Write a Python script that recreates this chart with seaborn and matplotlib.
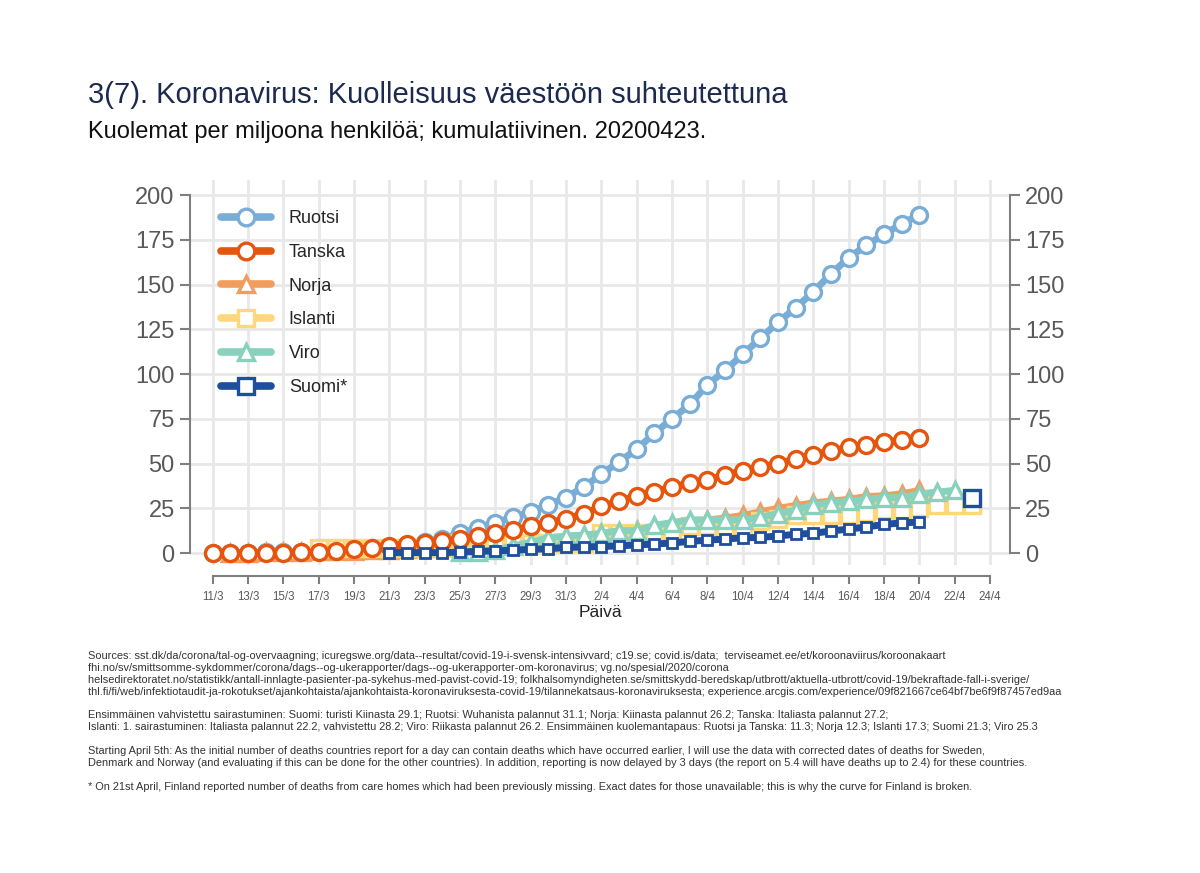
import pandas as pd
import matplotlib.pyplot as plt
import matplotlib.dates as mdates
import seaborn as sns
from matplotlib.lines import Line2D

# kuolemat per miljoona, kumulatiivinen, 11/3 - 23/4
dates = pd.date_range('2020-03-11', '2020-04-23')
N = None

ruotsi = [0.1, 0.1, 0.2, 0.3, 0.5, 0.8, 1.1, 1.5, 2.0, 2.7, 3.5,
          4.5, 6.0, 8, 11, 14, 17, 20, 23, 27, 31,
          37, 44, 51, 58, 67, 75, 83, 94, 102, 111,
          120, 129, 137, 146, 156, 165, 172, 178, 184, 189,
          N, N, N]
tanska = [0, 0, 0, 0, 0.2, 0.4, 0.6, 1.2, 2.1, 3.0, 4.0,
          5.0, 5.6, 6.5, 8.0, 9.5, 11, 13, 15, 17, 19,
          22, 26, 29, 32, 34, 37, 39, 41, 43.5, 46,
          48, 50, 52.5, 55, 57, 59, 60.5, 62, 63, 64,
          N, N, N]
norja = [N, 0.2, 0.2, 0.4, 0.6, 0.6, 0.9, 1.1, 1.3, 1.5, 1.9,
         2.4, 2.8, 3.5, 4.3, 5.0, 5.8, 6.5, 7.3, 8.0, 9.0,
         10, 11, 12, 13, 14.5, 16, 17, 18.5, 19.5, 21,
         23, 25, 26.5, 28, 29, 30, 31.5, 32, 33, 35,
         N, N, N]
islanti = [N, N, N, N, N, N,
           2.7, 2.7, 2.7, 2.7, 2.7, 2.7, 2.7, 2.7,
           5.5, 5.5, 5.5, 5.5, 5.5, 5.5, 5.5, 5.5,
           11, 11, 11, 11, 11,
           15, 15, 15, 15,
           18, 19.2,
           21, 21, 21, 21, 22.3,
           24, 24, 25,
           27, 27, 27]
viro = [N] * 14 + [0.8, 0.8, 1.5, 4, 6, 8.5, 9.5,
                   10, 11, 12.5, 12.5, 15.5, 17, 18.5, 18.5, 18.5, 18.5,
                   20, 22, 24, 27, 28, 29, 30, 31, 31, 33,
                   34, 35, N]
suomi = [N] * 10 + [0.2, 0.2, 0.2, 0.2, 0.5, 0.9, 1.2, 1.6, 2.0, 2.4, 3.1,
                    3.4, 3.6, 4.0, 4.5, 5.0, 5.6, 6.5, 7.2, 7.8, 8.5,
                    8.7, 9.5, 10.5, 11, 12.3, 13.4, 14.5, 16, 16.8, 17.3,
                    N, N, N]
# hoivakotien kuolemat mukana (21/4 jalkeen)
suomi_uusi_pvm = ['2020-04-23']
suomi_uusi = [31]

maat = ['Ruotsi', 'Tanska', 'Norja', 'Islanti', 'Viro', 'Suomi*']
arvot = [ruotsi, tanska, norja, islanti, viro, suomi]
varit = ['#7aadd6', '#e6550d', '#f29d5f', '#fed77a', '#88d1bc', '#1f4e9c']
merkit = ['o', 'o', '^', 's', '^', 's']
koot = [11.5, 11.5, 12, 11, 12, 6.5]
kerros = [3, 7, 4, 5, 6, 8]

sns.set_theme(style='white')
plt.rcParams['font.family'] = ['Liberation Sans', 'DejaVu Sans']

fig = plt.figure(figsize=(12, 8.73), dpi=100)
ax = fig.add_axes([190 / 1200, 1 - 565 / 873, 820 / 1200, 385 / 873])

for maa, vals, col, mk, ms, z in zip(maat, arvot, varit, merkit, koot, kerros):
    df = pd.DataFrame({'pvm': dates, 'arvo': vals}).dropna()
    sns.lineplot(data=df, x='pvm', y='arvo', ax=ax, color=col, linewidth=5,
                 marker=mk, markersize=ms, markerfacecolor='white',
                 markeredgecolor=col, markeredgewidth=2.4 if ms > 7 else 2,
                 zorder=z, legend=False)

df_fi = pd.DataFrame({'pvm': pd.to_datetime(suomi_uusi_pvm), 'arvo': suomi_uusi})
sns.lineplot(data=df_fi, x='pvm', y='arvo', ax=ax, color=varit[5], linewidth=0,
             marker='s', markersize=11.5, markerfacecolor='white',
             markeredgecolor=varit[5], markeredgewidth=2.4, zorder=10, legend=False)

ticks = pd.date_range('2020-03-11', '2020-04-24', freq='2D')
ax.set_xticks(ticks)
ax.set_xticklabels([f'{d.day}/{d.month}' for d in ticks])
ax.set_xlim(ticks[0] - pd.Timedelta(hours=31), ticks[-1] + pd.Timedelta(hours=27))
ax.set_ylim(-6.7, 208.4)
ax.set_yticks(range(0, 201, 25))
ax.grid(True, color='#e8e8e8', linewidth=2)
ax.set_axisbelow(True)

for s in ['top', 'right']:
    ax.spines[s].set_visible(False)
ax.spines['left'].set_bounds(0, 200)
ax.spines['left'].set_color('#7f7f7f')
ax.spines['left'].set_linewidth(1.5)
ax.spines['bottom'].set_position(('outward', 8))
ax.spines['bottom'].set_bounds(mdates.date2num(ticks[0]), mdates.date2num(ticks[-1]))
ax.spines['bottom'].set_color('#7f7f7f')
ax.spines['bottom'].set_linewidth(1.5)
ax.tick_params(axis='y', left=True, length=7, width=1.5, color='#7f7f7f',
               labelsize=17, labelcolor='#595959', pad=4)
ax.tick_params(axis='x', bottom=True, length=6, width=1.5, color='#7f7f7f',
               labelsize=8.3, labelcolor='#595959', pad=5)
ax.set_xlabel('Päivä', fontsize=12.5, color='#222222', labelpad=1)
ax.set_ylabel('')

ax2 = ax.twinx()
ax2.set_ylim(ax.get_ylim())
ax2.set_yticks(range(0, 201, 25))
for s in ['top', 'left', 'bottom']:
    ax2.spines[s].set_visible(False)
ax2.spines['right'].set_bounds(0, 200)
ax2.spines['right'].set_color('#7f7f7f')
ax2.spines['right'].set_linewidth(1.5)
ax2.tick_params(axis='y', right=True, length=7, width=1.5, color='#7f7f7f',
                labelsize=17, labelcolor='#595959', pad=4)
ax2.grid(False)

handles = []
for maa, col, mk in zip(maat, varit, merkit):
    handles.append(Line2D([], [], color=col, linewidth=5.5, marker=mk, markersize=12,
                          markerfacecolor='white', markeredgecolor=col,
                          markeredgewidth=2.4, label=maa))
ax.legend(handles=handles, loc='upper left', bbox_to_anchor=(212 / 1200, 1 - 201 / 873),
          bbox_transform=fig.transFigure, frameon=False, fontsize=13,
          handlelength=2.75, handletextpad=1.0, labelspacing=0.93, borderpad=0)

fig.text(88 / 1200, 1 - 95 / 873, '3(7). Koronavirus: Kuolleisuus väestöön suhteutettuna',
         fontsize=21, color='#1b2a4e', va='center')
fig.text(88 / 1200, 1 - 132 / 873, 'Kuolemat per miljoona henkilöä; kumulatiivinen. 20200423.',
         fontsize=17, color='#111111', va='center')

alaviite = [
    (656, 'Sources: sst.dk/da/corona/tal-og-overvaagning; icuregswe.org/data--resultat/covid-19-i-svensk-intensivvard; c19.se; covid.is/data;  terviseamet.ee/et/koroonaviirus/koroonakaart'),
    (668, 'fhi.no/sv/smittsomme-sykdommer/corona/dags--og-ukerapporter/dags--og-ukerapporter-om-koronavirus; vg.no/spesial/2020/corona'),
    (680, 'helsedirektoratet.no/statistikk/antall-innlagte-pasienter-pa-sykehus-med-pavist-covid-19; folkhalsomyndigheten.se/smittskydd-beredskap/utbrott/aktuella-utbrott/covid-19/bekraftade-fall-i-sverige/'),
    (692, 'thl.fi/fi/web/infektiotaudit-ja-rokotukset/ajankohtaista/ajankohtaista-koronaviruksesta-covid-19/tilannekatsaus-koronaviruksesta; experience.arcgis.com/experience/09f821667ce64bf7be6f9f87457ed9aa'),
    (715, 'Ensimmäinen vahvistettu sairastuminen: Suomi: turisti Kiinasta 29.1; Ruotsi: Wuhanista palannut 31.1; Norja: Kiinasta palannut 26.2; Tanska: Italiasta palannut 27.2;'),
    (727, 'Islanti: 1. sairastuminen: Italiasta palannut 22.2, vahvistettu 28.2; Viro: Riikasta palannut 26.2. Ensimmäinen kuolemantapaus: Ruotsi ja Tanska: 11.3; Norja 12.3; Islanti 17.3; Suomi 21.3; Viro 25.3'),
    (751, 'Starting April 5th: As the initial number of deaths countries report for a day can contain deaths which have occurred earlier, I will use the data with corrected dates of deaths for Sweden,'),
    (763, 'Denmark and Norway (and evaluating if this can be done for the other countries). In addition, reporting is now delayed by 3 days (the report on 5.4 will have deaths up to 2.4) for these countries.'),
    (787, '* On 21st April, Finland reported number of deaths from care homes which had been previously missing. Exact dates for those unavailable; this is why the curve for Finland is broken.'),
]
for y, teksti in alaviite:
    fig.text(88 / 1200, 1 - y / 873, teksti, fontsize=7.95, color='#333333', va='center')

fig.savefig('out.png', dpi=100, facecolor='white')
